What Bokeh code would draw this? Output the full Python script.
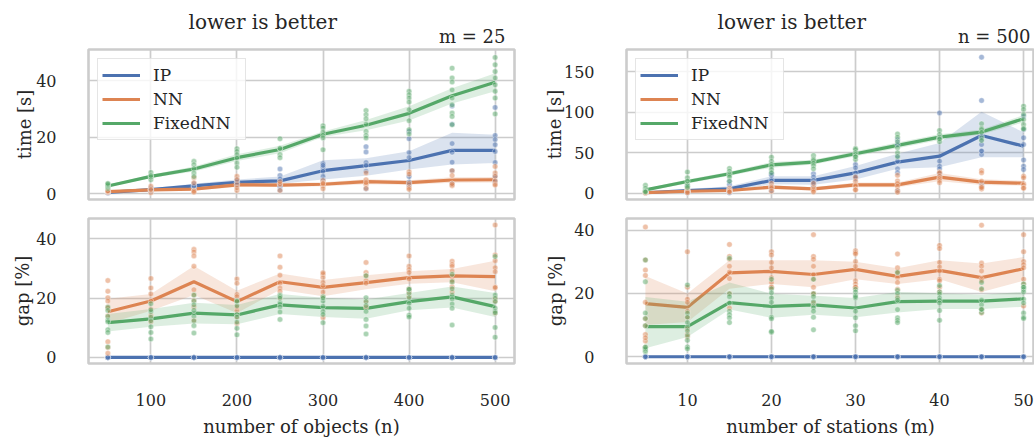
from bokeh.plotting import figure
from bokeh.models import Range1d, FixedTicker, Legend, LegendItem, Title
from bokeh.layouts import column, row
from bokeh.embed import file_html
from bokeh.resources import INLINE

# ---------------- data ----------------
n_values = [50, 100, 150, 200, 250, 300, 350, 400, 450, 500]
m_values = [5, 10, 15, 20, 25, 30, 35, 40, 45, 50]
series = ["IP", "NN", "FixedNN"]
colors = {"IP": "#4c72b0", "NN": "#dd8452", "FixedNN": "#55a868"}

# --- time vs n (m = 25)
tn_mean_ip = [0.4, 1.4, 2.7, 4.0, 4.5, 8.1, 9.9, 11.7, 15.3, 15.3]
tn_lo_ip = [0.2, 1.0, 2.0, 3.0, 3.5, 5.0, 6.3, 8.5, 10.3, 10.8]
tn_hi_ip = [0.7, 1.9, 3.5, 5.0, 6.0, 11.8, 12.5, 15.0, 21.5, 20.8]
tn_mean_nn = [0.7, 1.3, 1.6, 3.1, 3.0, 3.3, 4.2, 3.9, 4.8, 4.9]
tn_lo_nn = [0.4, 0.9, 1.1, 2.3, 2.3, 2.6, 3.3, 3.1, 3.8, 3.9]
tn_hi_nn = [1.0, 1.7, 2.1, 3.9, 3.7, 4.0, 5.1, 4.7, 5.8, 5.9]
tn_mean_fx = [2.7, 6.1, 8.7, 12.7, 15.6, 21.0, 24.2, 28.4, 34.6, 39.4]
tn_lo_fx = [2.3, 5.5, 7.8, 11.5, 14.3, 20.0, 22.4, 25.9, 31.9, 36.2]
tn_hi_fx = [3.1, 6.7, 9.6, 13.9, 16.9, 22.0, 26.0, 30.9, 37.3, 42.6]
tn_pts_ip = [[0.2, 0.3, 0.5, 0.6, 0.4], [0.8, 1.2, 1.5, 1.9, 1.6], [2.0, 2.5, 2.8, 3.5, 2.7],
             [3.0, 3.8, 4.2, 5.0, 4.0], [8.7, 6.4, 5.2, 3.0, 2.5, 1.2],
             [10.6, 9.2, 7.9, 6.1, 4.9, 10.0], [16.6, 14.7, 11.0, 10.0, 7.9, 1.7],
             [22.0, 19.4, 14.5, 12.8, 6.0, 4.0, 3.0], [31.0, 24.5, 17.7, 14.6, 11.1, 8.1, 3.4],
             [30.5, 20.6, 19.1, 17.3, 14.9, 6.1, 4.3, 11.0]]
tn_pts_nn = [[0.4, 0.6, 0.8, 1.0, 0.9], [2.6, 0.3, 1.2, 1.5], [5.6, 3.8, 0.9, 1.0, 0.5],
             [6.1, 4.9, 3.2, 1.1, 2.0], [3.2, 1.1, 3.5, 4.2], [4.6, 2.8, 1.7, 3.8, 3.5],
             [7.3, 4.9, 3.2, 1.8, 3.8], [7.7, 6.9, 3.5, 2.1, 1.5], [8.1, 6.4, 2.8, 3.0, 3.5],
             [9.6, 7.3, 6.1, 3.4, 4.5, 3.0]]
tn_pts_fx = [[1.8, 2.3, 2.7, 3.0, 3.3, 3.6], [7.5, 6.1, 4.9, 5.8, 6.4], [11.4, 10.2, 8.8, 7.3, 6.0],
             [15.9, 14.9, 13.8, 12.6, 10.8, 9.3], [19.4, 15.9, 13.8, 12.7, 16.0],
             [24.0, 23.2, 21.8, 20.6, 19.7, 15.5], [29.4, 27.9, 26.5, 24.6, 22.0, 20.6, 19.7],
             [36.2, 35.0, 33.8, 32.4, 29.7, 25.8, 22.6, 21.1],
             [44.4, 40.9, 39.5, 36.7, 33.8, 31.4, 28.5, 27.3, 24.4],
             [48.2, 45.6, 43.2, 40.9, 38.5, 36.2, 33.8, 28.2]]

# --- time vs m (n = 500)
tm_mean_ip = [0.5, 3.3, 5.4, 15.7, 15.7, 25.1, 38.3, 45.6, 71.2, 58.0]
tm_lo_ip = [0.2, 2.0, 3.0, 11.0, 10.5, 17.0, 30.0, 32.0, 44.4, 44.4]
tm_hi_ip = [0.8, 5.0, 8.5, 21.0, 21.0, 33.5, 48.5, 62.0, 100.5, 75.0]
tm_mean_nn = [0.8, 2.4, 3.3, 7.4, 5.4, 10.3, 10.3, 19.8, 13.6, 12.3]
tm_lo_nn = [0.3, 1.2, 1.8, 4.9, 3.4, 7.3, 7.3, 14.8, 10.1, 9.3]
tm_hi_nn = [1.3, 3.6, 4.8, 9.9, 7.4, 13.3, 13.3, 24.8, 17.1, 15.3]
tm_mean_fx = [4.1, 14.4, 23.9, 35.0, 38.3, 48.6, 58.9, 69.2, 75.4, 91.8]
tm_lo_fx = [2.6, 11.9, 21.4, 31.5, 35.3, 45.6, 55.4, 65.7, 72.4, 87.3]
tm_hi_fx = [5.6, 16.9, 26.4, 38.5, 41.3, 51.6, 62.4, 72.7, 78.4, 96.3]
tm_pts_ip = [[0.2, 0.5, 0.8], [8.5, 4.0, 2.0, 1.5, 0.5], [14.8, 10.7, 4.0, 2.0, 1.0, 0.5],
             [24.0, 22.2, 16.9, 15.0, 8.6, 3.3], [24.0, 20.0, 15.7, 12.0, 9.5, 13.0],
             [35.4, 31.3, 25.0, 21.0, 18.0, 20.0], [66.0, 60.0, 45.6, 39.5, 30.0, 25.2, 3.0],
             [99.0, 68.0, 39.5, 33.3, 30.0, 25.0, 24.0],
             [167.7, 114.3, 70.3, 66.2, 60.0, 51.8, 47.7, 10.0, 52.0],
             [94.9, 78.5, 68.3, 60.0, 33.3, 29.2, 41.0]]
tm_pts_nn = [[0.3, 0.8, 1.5, 0.5], [5.0, 3.0, 2.0, 1.5, 0.5], [6.0, 4.0, 3.0, 2.0, 1.5],
             [12.0, 8.0, 7.4, 6.0, 2.5], [12.0, 7.0, 5.0, 3.3, 1.5],
             [19.7, 14.8, 10.0, 8.6, 4.5, 4.0], [22.0, 15.0, 12.0, 8.6, 3.3, 1.0],
             [26.0, 25.0, 21.0, 18.0, 15.7, 13.0], [28.0, 25.2, 14.8, 8.6, 7.0, 5.0, 7.0],
             [21.0, 19.0, 11.6, 10.0, 6.6, 6.0]]
tm_pts_fx = [[9.8, 6.0, 3.0, 2.0, 1.5], [26.0, 19.0, 15.0, 11.0, 9.0, 7.0],
             [30.5, 27.1, 24.0, 22.2, 20.0, 14.8], [44.4, 39.5, 35.4, 33.0, 29.2, 25.2],
             [46.5, 42.0, 40.4, 37.0, 34.0, 30.0], [55.0, 53.9, 50.0, 47.7, 45.0, 41.6, 45.0],
             [73.0, 69.0, 63.4, 56.0, 49.8, 45.0], [77.3, 72.4, 69.0, 66.2, 63.4, 67.0],
             [85.6, 80.0, 78.5, 75.0, 68.3, 65.0], [107.3, 103.2, 97.0, 90.9, 84.7, 80.0, 79.0]]

# --- gap vs n (m = 25)
gn_mean_ip = [0, 0, 0, 0, 0, 0, 0, 0, 0, 0]
gn_mean_nn = [15.4, 19.0, 25.5, 18.8, 25.5, 23.6, 25.2, 26.9, 27.5, 27.2]
gn_lo_nn = [11.4, 15.7, 21.0, 15.0, 22.8, 20.6, 23.0, 24.8, 25.3, 22.3]
gn_hi_nn = [19.8, 21.4, 30.8, 22.5, 28.3, 26.1, 27.7, 29.0, 29.8, 32.6]
gn_mean_fx = [11.7, 13.0, 14.9, 14.3, 17.7, 16.8, 16.5, 18.8, 20.4, 17.1]
gn_lo_fx = [8.7, 10.3, 11.4, 11.2, 14.6, 13.6, 13.0, 15.9, 16.8, 13.6]
gn_hi_fx = [14.6, 16.3, 18.4, 17.7, 21.4, 20.1, 19.5, 21.7, 23.9, 21.7]
gn_pts_ip = [[0, 0, 0, 0], [0, 0, 0, 0], [0, 0, 0, 0], [0, 0, 0, 0], [0, 0, 0, 0],
             [0, 0, 0, 0], [0, 0, 0, 0], [0, 0, 0, 0], [0, 0, 0, 0], [0, 0, 0, 0]]
gn_pts_nn = [[25.9, 22.3, 20.1, 19.0, 17.0, 16.6, 14.0, 5.3, 3.3, 1.4],
             [26.6, 23.4, 21.4, 19.0, 16.3, 14.1, 12.0],
             [36.4, 35.5, 34.2, 30.7, 22.8, 21.0, 19.2, 12.5, 17.0],
             [26.4, 25.0, 21.2, 20.5, 15.8, 13.6, 11.4, 17.0],
             [34.2, 30.4, 27.7, 25.0, 23.4, 22.3, 20.0],
             [28.0, 26.9, 25.3, 24.2, 22.0, 20.4, 13.4, 28.5],
             [32.0, 28.6, 27.5, 25.9, 25.0, 18.8, 17.0],
             [34.2, 30.7, 29.6, 28.6, 26.4, 23.1, 22.0, 20.5],
             [32.4, 31.3, 30.7, 29.1, 25.3, 23.7, 22.0, 26.0],
             [44.6, 34.5, 32.6, 30.2, 28.9, 23.7, 23.5, 19.9, 15.0, 19.0]]
gn_pts_fx = [[16.9, 15.8, 13.8, 12.5, 12.0, 9.3, 8.4, 3.5],
             [18.1, 15.4, 13.6, 12.3, 10.3, 8.4, 6.2, 16.0],
             [21.0, 19.0, 17.7, 15.9, 13.9, 12.3, 10.7, 8.2],
             [18.8, 17.4, 19.0, 14.5, 13.6, 11.9, 9.8, 7.6],
             [21.0, 20.5, 20.0, 18.5, 18.0, 17.0, 15.3, 12.8],
             [20.4, 19.0, 17.2, 15.5, 14.5, 11.7, 20.0],
             [27.5, 20.1, 18.8, 17.5, 15.5, 12.8, 10.6, 7.9],
             [22.9, 21.5, 20.1, 18.2, 16.6, 14.2, 13.6, 23.0],
             [25.5, 23.1, 21.0, 19.7, 18.0, 16.6, 10.9, 28.0],
             [34.0, 21.0, 19.9, 18.8, 16.6, 15.5, 15.0, 10.1, 6.8]]

# --- gap vs m (n = 500)
gm_mean_ip = [0, 0, 0, 0, 0, 0, 0, 0, 0, 0]
gm_mean_nn = [16.8, 15.6, 26.5, 27.0, 26.0, 27.6, 25.4, 27.3, 25.0, 27.8]
gm_lo_nn = [10.0, 11.0, 21.5, 23.0, 22.0, 24.5, 23.0, 24.5, 20.5, 24.0]
gm_hi_nn = [25.5, 20.0, 30.5, 30.5, 30.5, 30.0, 28.0, 30.5, 29.5, 31.5]
gm_mean_fx = [9.5, 9.5, 17.1, 15.9, 16.4, 15.4, 17.4, 17.6, 17.6, 18.3]
gm_lo_fx = [2.7, 6.2, 14.9, 12.3, 13.3, 12.5, 14.0, 15.1, 15.1, 15.8]
gm_hi_fx = [18.9, 17.4, 23.5, 19.9, 19.3, 18.6, 20.5, 20.1, 19.6, 20.5]
gm_pts_ip = [[0, 0, 0, 0], [0, 0, 0, 0], [0, 0, 0, 0], [0, 0, 0, 0], [0, 0, 0, 0],
             [0, 0, 0, 0], [0, 0, 0, 0], [0, 0, 0, 0], [0, 0, 0, 0], [0, 0, 0, 0]]
gm_pts_nn = [[41.0, 30.6, 27.4, 25.7, 17.2, 12.0, 9.8, 7.0, 5.0, 3.0, 6.0],
             [33.2, 18.2, 17.2, 14.4, 12.5, 8.8, 7.2, 6.2, 22.0],
             [35.5, 31.7, 30.8, 28.6, 26.8, 24.7, 15.4, 20.0],
             [33.2, 32.2, 29.8, 28.1, 25.0, 23.5, 22.0, 22.0],
             [38.6, 31.7, 30.8, 28.6, 26.0, 24.5, 22.0, 19.8, 20.0, 17.0],
             [33.5, 32.9, 32.5, 30.1, 28.6, 24.0, 23.0, 22.0, 22.0],
             [32.5, 28.1, 27.0, 26.6, 25.0, 23.5, 21.3, 19.0],
             [35.2, 34.2, 29.8, 28.4, 27.1, 24.5, 22.0, 20.5, 24.0],
             [41.6, 29.6, 28.6, 27.1, 24.5, 21.2, 13.8, 15.0, 24.0],
             [38.6, 33.2, 30.1, 29.1, 28.1, 24.5, 23.0, 16.0]]
gm_pts_fx = [[30.6, 23.7, 13.8, 12.1, 9.8, 1.6, 2.0, 3.0, 2.5, 3.0],
             [22.7, 13.8, 12.5, 10.8, 9.3, 8.2, 6.7, 5.2, 3.1, 2.5],
             [31.1, 19.9, 19.0, 17.0, 14.4, 13.3, 12.3, 10.8],
             [24.5, 21.5, 20.2, 18.6, 17.2, 12.5, 12.0, 7.7, 8.0],
             [24.5, 19.9, 17.4, 16.0, 15.5, 14.4, 12.5, 8.5, 19.0],
             [21.3, 20.5, 19.5, 18.6, 14.4, 12.3, 9.8, 8.2, 19.0],
             [26.6, 21.0, 20.0, 18.5, 17.9, 14.9, 12.3, 11.5, 10.8],
             [22.5, 20.5, 19.9, 18.6, 17.9, 17.0, 14.6, 11.5],
             [23.5, 21.5, 14.0, 17.9, 16.4, 14.9, 15.0],
             [23.0, 22.0, 21.3, 20.5, 18.2, 17.0, 13.8, 12.5, 12.1, 22.0]]

n_ticks = [100, 200, 300, 400, 500]
m_ticks = [10, 20, 30, 40, 50]
time_n_ticks = [0, 20, 40]
time_m_ticks = [0, 50, 100, 150]
gap_ticks = [0, 20, 40]

# ---------------- style ----------------
FONT = "DejaVu Serif"
TXT = "#262626"
GRID = "#cccccc"


def make_fig(w, h, xr, yr, bl, br, bt, bb, xticks, yticks, ylabel, ylabel_standoff,
             xlabel=None):
    p = figure(width=w, height=h, x_range=Range1d(*xr), y_range=Range1d(*yr),
               output_backend="svg", toolbar_location=None,
               min_border_left=bl, min_border_right=br, min_border_top=bt,
               min_border_bottom=bb)
    p.background_fill_color = "white"
    p.border_fill_color = "white"
    p.outline_line_color = GRID
    p.outline_line_width = 2.6
    p.xaxis.ticker = FixedTicker(ticks=xticks)
    p.yaxis.ticker = FixedTicker(ticks=yticks)
    for g in (p.xgrid, p.ygrid):
        g.grid_line_color = GRID
        g.grid_line_width = 1.7
    for ax in (p.xaxis, p.yaxis):
        ax.axis_line_color = None
        ax.major_tick_line_color = None
        ax.minor_tick_line_color = None
        ax.major_label_text_font = FONT
        ax.major_label_text_font_size = "16px"
        ax.major_label_text_color = TXT
        ax.axis_label_text_font = FONT
        ax.axis_label_text_font_size = "18px"
        ax.axis_label_text_font_style = "normal"
        ax.axis_label_text_color = TXT
    p.yaxis.major_label_standoff = 26
    p.yaxis.axis_label = ylabel
    p.yaxis.axis_label_standoff = ylabel_standoff
    if xlabel is None:
        p.xaxis.visible = False
    else:
        p.xaxis.major_label_standoff = 24
        p.xaxis.axis_label = xlabel
        p.xaxis.axis_label_standoff = 7
    return p


def draw(p, xs, means, los, his, pts, legend=False):
    line_r = {}
    for s in series:
        c = colors[s]
        if los[s] is not None:
            p.varea(x=xs, y1=los[s], y2=his[s], fill_color=c, fill_alpha=0.2)
        line_r[s] = p.line(xs, means[s], line_color=c, line_width=3.2)
    for s in series:
        c = colors[s]
        px, py = [], []
        for xv, lst in zip(xs, pts[s]):
            px.extend([xv] * len(lst))
            py.extend(lst)
        p.scatter(px, py, size=5.5, fill_color=c, fill_alpha=0.5,
                  line_color="white", line_width=0.6, line_alpha=0.6)
    if legend:
        lg = Legend(items=[LegendItem(label=s, renderers=[line_r[s]]) for s in series],
                    location="top_left", margin=9, padding=4, spacing=0,
                    glyph_width=38, glyph_height=24, label_height=24, label_width=88,
                    label_standoff=13, label_text_font=FONT, label_text_font_size="17px",
                    label_text_color=TXT, border_line_color=GRID, border_line_width=1.6,
                    background_fill_color="white", background_fill_alpha=0.8)
        p.add_layout(lg)


def titles(p, sub, sub_offset, main_offset):
    p.add_layout(Title(text=sub, align="right", offset=sub_offset, standoff=6,
                       text_font=FONT, text_font_size="18px", text_font_style="normal",
                       text_color=TXT), "above")
    p.add_layout(Title(text="lower is better", align="left", offset=main_offset,
                       standoff=-26, text_font=FONT, text_font_size="20px",
                       text_font_style="normal", text_color=TXT), "above")


# ---------------- panels ----------------
p_tn = make_fig(518, 208, (27.5, 522.5), (-2.1, 51.0), 88, 4, 49, 9,
                n_ticks, time_n_ticks, "time [s]", -2)
draw(p_tn, n_values,
     {"IP": tn_mean_ip, "NN": tn_mean_nn, "FixedNN": tn_mean_fx},
     {"IP": tn_lo_ip, "NN": tn_lo_nn, "FixedNN": tn_lo_fx},
     {"IP": tn_hi_ip, "NN": tn_hi_nn, "FixedNN": tn_hi_fx},
     {"IP": tn_pts_ip, "NN": tn_pts_nn, "FixedNN": tn_pts_fx}, legend=True)
titles(p_tn, "m = 25", 9, 100)

p_tm = make_fig(516, 208, (2.75, 51.3), (-7.8, 177.2), 108, 0, 49, 9,
                m_ticks, time_m_ticks, "time [s]", -4)
draw(p_tm, m_values,
     {"IP": tm_mean_ip, "NN": tm_mean_nn, "FixedNN": tm_mean_fx},
     {"IP": tm_lo_ip, "NN": tm_lo_nn, "FixedNN": tm_lo_fx},
     {"IP": tm_hi_ip, "NN": tm_hi_nn, "FixedNN": tm_hi_fx},
     {"IP": tm_pts_ip, "NN": tm_pts_nn, "FixedNN": tm_pts_fx}, legend=True)
titles(p_tm, "n = 500", 4, 91)

p_gn = make_fig(518, 231, (27.5, 522.5), (-2.05, 46.8), 88, 4, 10, 71,
                n_ticks, gap_ticks, "gap [%]", 0, xlabel="number of objects (n)")
draw(p_gn, n_values,
     {"IP": gn_mean_ip, "NN": gn_mean_nn, "FixedNN": gn_mean_fx},
     {"IP": None, "NN": gn_lo_nn, "FixedNN": gn_lo_fx},
     {"IP": None, "NN": gn_hi_nn, "FixedNN": gn_hi_fx},
     {"IP": gn_pts_ip, "NN": gn_pts_nn, "FixedNN": gn_pts_fx})

p_gm = make_fig(516, 231, (2.75, 51.3), (-2.14, 43.7), 108, 0, 10, 71,
                m_ticks, gap_ticks, "gap [%]", 5, xlabel="number of stations (m)")
draw(p_gm, m_values,
     {"IP": gm_mean_ip, "NN": gm_mean_nn, "FixedNN": gm_mean_fx},
     {"IP": None, "NN": gm_lo_nn, "FixedNN": gm_lo_fx},
     {"IP": None, "NN": gm_hi_nn, "FixedNN": gm_hi_fx},
     {"IP": gm_pts_ip, "NN": gm_pts_nn, "FixedNN": gm_pts_fx})

layout = column(row(p_tn, p_tm), row(p_gn, p_gm))

with open("out.html", "w") as f:
    f.write(file_html(layout, INLINE))
